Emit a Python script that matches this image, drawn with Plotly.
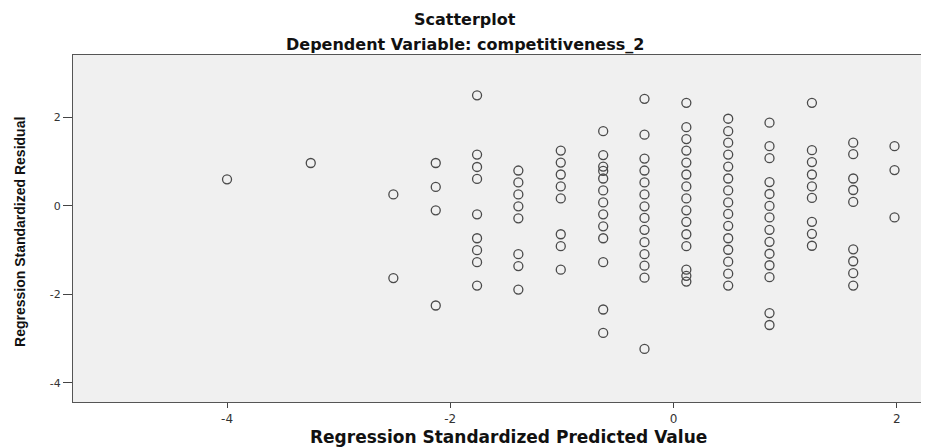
import plotly.graph_objects as go

# Predicted-value columns (discrete) and the standardized residuals observed in each
predicted = [-4.00, -3.25, -2.51, -2.13, -1.76, -1.39, -1.01, -0.63, -0.26, 0.115, 0.49, 0.86, 1.24, 1.61, 1.98]
residuals = [
    [0.60],
    [0.97],
    [0.26, -1.63],
    [0.97, 0.43, -0.10, -2.25],
    [2.50, 1.16, 0.88, 0.61, -0.19, -0.73, -1.00, -1.27, -1.80],
    [0.80, 0.53, 0.26, -0.01, -0.28, -1.09, -1.36, -1.89],
    [1.25, 0.98, 0.71, 0.44, 0.17, -0.64, -0.91, -1.44],
    [1.69, 1.15, 0.89, 0.79, 0.62, 0.35, 0.08, -0.19, -0.46, -0.73, -1.27, -2.34, -2.87],
    [2.42, 1.61, 1.07, 0.80, 0.53, 0.26, -0.01, -0.27, -0.54, -0.82, -1.09, -1.35, -1.62, -3.23],
    [2.33, 1.78, 1.51, 1.25, 0.98, 0.71, 0.44, 0.17, -0.10, -0.36, -0.64, -0.91, -1.44, -1.58, -1.71],
    [1.97, 1.69, 1.43, 1.16, 0.89, 0.62, 0.35, 0.08, -0.18, -0.45, -0.73, -0.99, -1.26, -1.53, -1.80],
    [1.88, 1.35, 1.08, 0.54, 0.27, 0.00, -0.26, -0.54, -0.81, -1.08, -1.34, -1.61, -2.42, -2.69],
    [2.33, 1.26, 0.99, 0.71, 0.44, 0.18, -0.36, -0.63, -0.90],
    [1.43, 1.17, 0.62, 0.36, 0.09, -0.98, -1.25, -1.52, -1.80],
    [1.35, 0.81, -0.26],
]
x_ticks = [-4, -2, 0, 2]
y_ticks = [-4, -2, 0, 2]

title_text = "Scatterplot"
subtitle_text = "Dependent Variable: competitiveness_2"
x_title = "Regression Standardized Predicted Value"
y_title = "Regression Standardized Residual"

xs, ys = [], []
for p, rs in zip(predicted, residuals):
    for r in rs:
        xs.append(p)
        ys.append(r)

fig = go.Figure()
fig.add_trace(go.Scatter(
    x=xs, y=ys, mode="markers",
    marker=dict(symbol="circle-open", size=9, color="#4a4a4a", line=dict(width=1.3)),
    hoverinfo="x+y", showlegend=False,
))

wide = "DejaVu Sans, Verdana, sans-serif"
arial = "Liberation Sans, Arial, sans-serif"
# The page body has an 8px margin, so the figure is sized 921x440 and placed at (8, 8).
fig.update_layout(
    width=921, height=440,
    paper_bgcolor="white",
    plot_bgcolor="#F0F0F0",
    margin=dict(l=65, r=1, t=47, b=46),
    font=dict(family=wide, size=12, color="#222"),
    annotations=[
        dict(text="<b>" + title_text + "</b>", xref="paper", yref="paper", x=0.4585, y=1,
             xanchor="center", yanchor="middle", yshift=36, showarrow=False,
             font=dict(family=wide, size=16, color="#111")),
        dict(text="<b>" + subtitle_text + "</b>", xref="paper", yref="paper",
             x=0.4585, y=1, xanchor="center", yanchor="middle", yshift=11, showarrow=False,
             font=dict(family=wide, size=16, color="#111")),
        dict(text="<b>" + x_title + "</b>", xref="paper", yref="paper",
             x=0.509, y=0, xanchor="center", yanchor="middle", yshift=-35, showarrow=False,
             font=dict(family=wide, size=17, color="#111")),
        dict(text="<b>" + y_title + "</b>", xref="paper", yref="paper",
             x=0, y=0.49, xanchor="center", yanchor="middle", xshift=-53, textangle=-90,
             showarrow=False, font=dict(family=arial, size=14, color="#111")),
    ],
)
fig.update_xaxes(
    range=[-5.38, 2.28], tickvals=x_ticks, ticktext=[str(v) for v in x_ticks],
    showgrid=False, zeroline=False, automargin=False,
    showline=True, linecolor="#555", linewidth=1.2, mirror=True,
    ticks="outside", ticklen=5, tickcolor="#444", tickwidth=1.2,
    tickfont=dict(family=wide, size=12, color="#333"),
)
fig.update_yaxes(
    range=[-4.43, 3.41], tickvals=y_ticks, ticktext=[str(v) for v in y_ticks],
    showgrid=False, zeroline=False, automargin=False,
    showline=True, linecolor="#555", linewidth=1.2, mirror=True,
    ticks="outside", ticklen=9, tickcolor="#444", tickwidth=1.2,
    tickfont=dict(family=wide, size=11, color="#333"),
)

fig.write_html("out.html")
